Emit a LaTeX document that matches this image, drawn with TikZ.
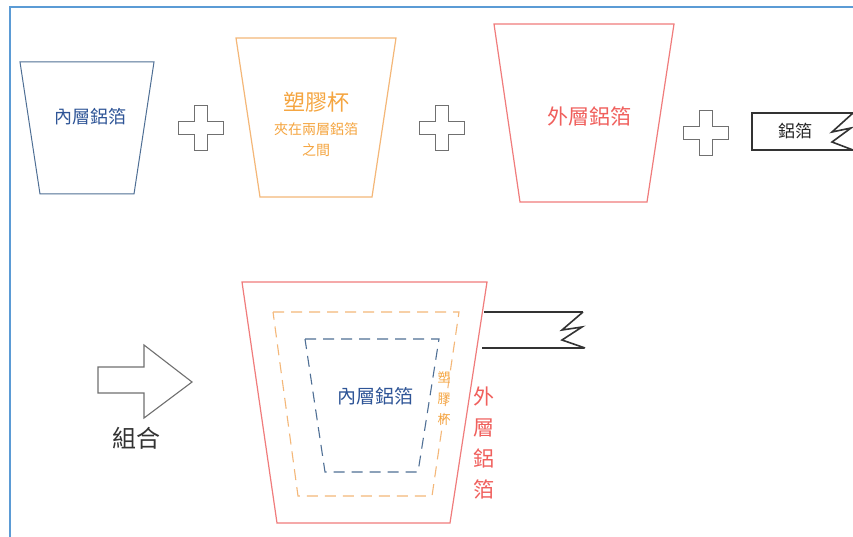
\documentclass[tikz,border=0pt]{standalone}
\usepackage{fontspec}
\newfontfamily\cjk{Noto Sans CJK TC}
\definecolor{frameblue}{HTML}{5B9BD5}
\definecolor{cupblue}{HTML}{4F6F95}
\definecolor{txtblue}{HTML}{2F5597}
\definecolor{cuporange}{HTML}{F4B778}
\definecolor{txtorange}{HTML}{F5A540}
\definecolor{cupred}{HTML}{F07C7C}
\definecolor{txtred}{HTML}{F0605D}
\definecolor{plusgray}{HTML}{707070}
\newcommand\plusat[2]{%
  \draw[plusline] (#1-6.5,#2-22.5) -- (#1+6.5,#2-22.5) -- (#1+6.5,#2-6.5) -- (#1+22.5,#2-6.5)
    -- (#1+22.5,#2+6.5) -- (#1+6.5,#2+6.5) -- (#1+6.5,#2+22.5) -- (#1-6.5,#2+22.5)
    -- (#1-6.5,#2+6.5) -- (#1-22.5,#2+6.5) -- (#1-22.5,#2-6.5) -- (#1-6.5,#2-6.5) -- cycle;}
\begin{document}
\begin{tikzpicture}[x=1pt,y=-1pt,
  plusline/.style={draw=plusgray,line width=1.3pt,fill=white},
  cupb/.style={draw=cupblue,line width=1pt},
  cupo/.style={draw=cuporange,line width=1.2pt},
  cupr/.style={draw=cupred,line width=1.2pt},
  dashb/.style={draw=cupblue,line width=1.1pt,dash pattern=on 11pt off 7pt},
  dasho/.style={draw=cuporange,line width=1.1pt,dash pattern=on 11pt off 7pt},
  foil/.style={draw=black!80,line width=1.6pt,line join=miter},
  lbl/.style={font=\cjk, inner sep=0pt}]
\useasboundingbox (0,0) rectangle (853,537);
\clip (0,0) rectangle (853,537);
\fill[white] (0,0) rectangle (853,537);
% frame
\draw[frameblue,line width=2pt] (10,7) rectangle (880,570);

% --- top row ---
\draw[cupb] (20,62) -- (154,62) -- (134,194) -- (40,194) -- cycle;
\node[lbl,text=txtblue,font=\cjk\fontsize{18}{20}\selectfont] (t1) at (90,117) {內層鋁箔};

\plusat{201}{128}

\draw[cupo] (236,38) -- (396,38) -- (372,197) -- (260,197) -- cycle;
\node[lbl,text=txtorange,font=\cjk\fontsize{22}{24}\selectfont] (t2) at (316,102) {塑膠杯};
\node[lbl,text=txtorange,font=\cjk\fontsize{14}{16}\selectfont] (t2b) at (316,129) {夾在兩層鋁箔};
\node[lbl,text=txtorange,font=\cjk\fontsize{14}{16}\selectfont] (t2c) at (316,150) {之間};

\plusat{442}{128}

\draw[cupr] (494,24) -- (674,24) -- (647,202) -- (520,202) -- cycle;
\node[lbl,text=txtred,font=\cjk\fontsize{21}{23}\selectfont] (t3) at (589,116) {外層鋁箔};

\plusat{706}{133}

\draw[foil] (860,113) -- (752,113) -- (752,150) -- (860,150);
\draw[foil] (853,113) -- (832,132) -- (851,128) -- (832,142) -- (853,150);
\node[lbl,text=black!85,font=\cjk\fontsize{17}{19}\selectfont] (t4) at (795,131) {鋁箔};

% --- bottom ---
\draw[draw=plusgray,line width=1.1pt,fill=white] (98,367) -- (144,367) -- (144,345) -- (192,382)
  -- (144,418) -- (144,393) -- (98,393) -- cycle;
\node[lbl,text=black!80,font=\cjk\fontsize{24}{26}\selectfont] (t5) at (136,438) {組合};

\draw[cupr] (242,282) -- (487,282) -- (450,523) -- (277,523) -- cycle;
\draw[dasho] (273,312) -- (459,312) -- (432,496) -- (298,496) -- cycle;
\draw[dashb] (305,339) -- (439,339) -- (418,472) -- (325,472) -- cycle;
\node[lbl,text=txtblue,font=\cjk\fontsize{19}{21}\selectfont] (t6) at (375,396) {內層鋁箔};
\node[lbl,text=txtorange,font=\cjk\fontsize{13}{21}\selectfont,align=center] (t7) at (444,399) {塑\\膠\\杯};
\node[lbl,text=txtred,font=\cjk\fontsize{21}{31}\selectfont,align=center] (t8) at (484,443) {外\\層\\鋁\\箔};

\draw[foil] (484,312) -- (583,312);
\draw[foil] (482,348) -- (584,348);
\draw[foil] (583,312) -- (562,330) -- (582,327) -- (562,340) -- (585,348);
\end{tikzpicture}
\end{document}
